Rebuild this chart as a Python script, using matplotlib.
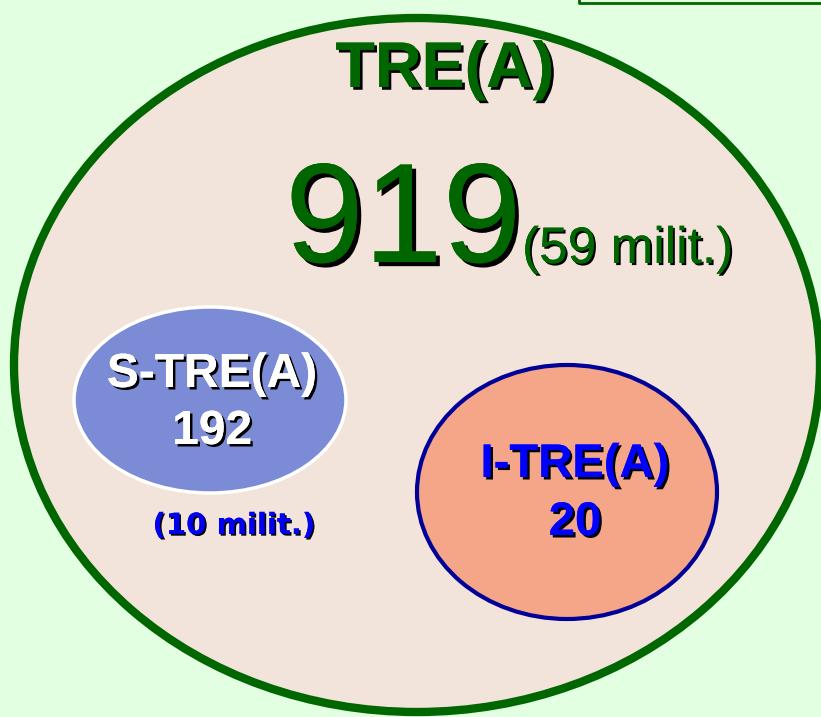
import matplotlib
matplotlib.use("Agg")
import matplotlib.pyplot as plt
from matplotlib.patches import Ellipse
import matplotlib.patheffects as pe

# Data
total_label = "TRE(A)"
total_value = 919
total_milit = 59
sub_labels = ["S-TRE(A)", "I-TRE(A)"]
sub_values = [192, 20]
s_milit = 10

W, H = 821, 717
fig = plt.figure(figsize=(W / 100, H / 100), dpi=100)
fig.patch.set_facecolor("#E2FFE2")
ax = fig.add_axes([0, 0, 1, 1])
ax.set_xlim(0, W)
ax.set_ylim(H, 0)
ax.axis("off")

dark_green = "#006600"

# top-right box fragment
ax.plot([579, 579, 830], [-5, 3, 3], color=dark_green, lw=2, solid_capstyle="butt")

# big ellipse
ax.add_patch(Ellipse((417, 365), 806, 694, facecolor="#F2E3DB", edgecolor=dark_green, lw=6))
# S-TRE ellipse
ax.add_patch(Ellipse((210, 400), 272, 186, facecolor="#7B8BD5", edgecolor="white", lw=2.5))
# I-TRE ellipse
ax.add_patch(Ellipse((567, 492), 300, 254, facecolor="#F5A688", edgecolor="#000099", lw=3))

def shadow(off):
    return [pe.withSimplePatchShadow(offset=(off, -off), shadow_rgbFace="black", alpha=1.0), pe.Normal()]

font = "Liberation Sans"

ax.text(445, 70, total_label, fontsize=46.5, fontweight="bold", color=dark_green, family=font,
        ha="center", va="center", path_effects=shadow(2))
ax.text(285, 262, f"{total_value}", fontsize=102, color=dark_green, family=font,
        ha="left", va="baseline", path_effects=shadow(3))
ax.text(522, 263, f"({total_milit} milit.)", fontsize=37, color=dark_green, family=font,
        ha="left", va="baseline", path_effects=shadow(1.5))

ax.text(212, 387, sub_labels[0], fontsize=34.5, fontweight="bold", color="white", family=font,
        ha="center", va="baseline", path_effects=shadow(1.8))
ax.text(212, 444, f"{sub_values[0]}", fontsize=34.5, fontweight="bold", color="white", family=font,
        ha="center", va="baseline", path_effects=shadow(1.8))

ax.text(234, 526, f"({s_milit} milit.)", fontsize=21, fontweight="bold", color="#0000EE", family="DejaVu Sans",
        ha="center", va="center", path_effects=shadow(1.2))

ax.text(575, 477, sub_labels[1], fontsize=34, fontweight="bold", color="#0000FF", family=font,
        ha="center", va="baseline", path_effects=shadow(1.8))
ax.text(575, 535, f"{sub_values[1]}", fontsize=34, fontweight="bold", color="#0000FF", family=font,
        ha="center", va="baseline", path_effects=shadow(1.8))

fig.savefig("out.png", dpi=100, facecolor=fig.get_facecolor())
